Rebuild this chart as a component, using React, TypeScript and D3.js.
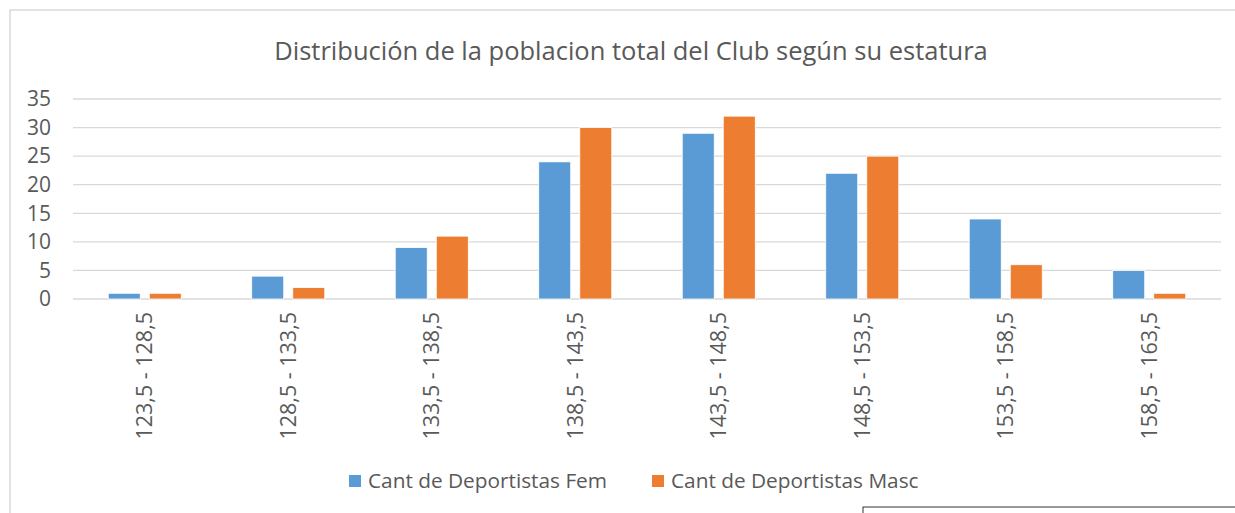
import React from "react";
import * as d3 from "d3";

const categories = ["123,5 - 128,5", "128,5 - 133,5", "133,5 - 138,5", "138,5 - 143,5", "143,5 - 148,5", "148,5 - 153,5", "153,5 - 158,5", "158,5 - 163,5"];
const fem = [1, 4, 9, 24, 29, 22, 14, 5];
const masc = [1, 2, 11, 30, 32, 25, 6, 1];
const seriesNames = ["Cant de Deportistas Fem", "Cant de Deportistas Masc"];
const colors = ["#5B9BD5", "#ED7D31"];
const yTicks = [0, 5, 10, 15, 20, 25, 30, 35];

const width = 1235;
const height = 513;
const font = "'Open Sans', sans-serif";
const textColor = "#595959";

export default function App() {
  const x = d3.scaleBand<string>().domain(categories).range([73, 1221]);
  const y = d3.scaleLinear().domain([0, 35]).range([299, 99]);
  const bw = x.bandwidth();
  const barW = bw * 0.223;
  const gap = bw * 0.063;
  const series = [fem, masc];

  return (
    <svg width={width} height={height} style={{ position: "absolute", left: 0, top: 0 }} fontFamily={font}>
      <rect x={10} y={10} width={width + 10} height={height + 10} fill="#fff" stroke="#D9D9D9" strokeWidth={1.5} />
      <text x={631} y={60} textAnchor="middle" fontSize={25.5} fill={textColor}>
        Distribución de la poblacion total del Club según su estatura
      </text>
      {yTicks.map(t => (
        <g key={t}>
          <line x1={73} x2={1221} y1={y(t)} y2={y(t)} stroke="#D9D9D9" strokeWidth={1.3} />
          <text x={51} y={y(t)} dy="0.35em" textAnchor="end" fontSize={21} fill={textColor}>{t}</text>
        </g>
      ))}
      {series.map((vals, s) => (
        <g key={s}>
          {vals.map((v, i) => {
            const c = x(categories[i])! + bw / 2;
            const bx = s === 0 ? c - gap / 2 - barW : c + gap / 2;
            return (
              <rect key={i} x={bx} y={y(v)} width={barW} height={y(0) - y(v)} fill={colors[s]} stroke="#fff" strokeWidth={0.8} />
            );
          })}
        </g>
      ))}
      {categories.map(c => {
        const cx = x(c)! + bw / 2;
        return (
          <text key={c} transform={`translate(${cx},312) rotate(-90)`} dy="0.35em" textAnchor="end" fontSize={21.5} fill={textColor}>
            {c}
          </text>
        );
      })}
      <g>
        <rect x={349} y={475} width={12} height={12} fill={colors[0]} />
        <text x={368} y={481} dy="0.35em" fontSize={20.8} fill={textColor}>{seriesNames[0]}</text>
        <rect x={652} y={475} width={12} height={12} fill={colors[1]} />
        <text x={671} y={481} dy="0.35em" fontSize={20.8} fill={textColor}>{seriesNames[1]}</text>
      </g>
      <rect x={863} y={507} width={400} height={40} fill="#fff" stroke="#333" strokeWidth={1} />
    </svg>
  );
}
